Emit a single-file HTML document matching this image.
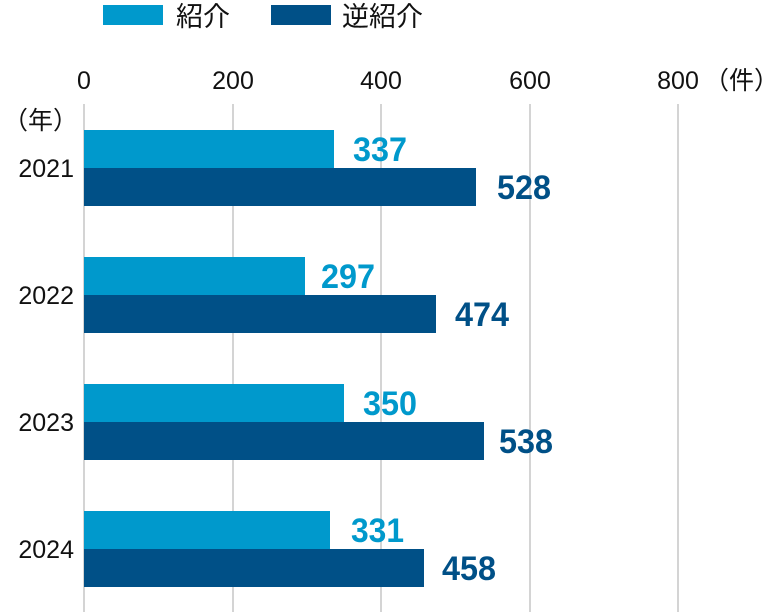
<!DOCTYPE html>
<html><head><meta charset="utf-8"><style>
body{margin:0;background:#fff;}
svg{display:block;}
.t{font-family:"Liberation Sans","Noto Sans CJK JP",sans-serif;fill:#111;}
.v{font-family:"Liberation Sans",sans-serif;font-weight:bold;font-size:34px;}
</style></head><body>
<svg width="780" height="616" viewBox="0 0 780 616">
<rect x="103" y="5" width="60" height="20" fill="#0099cc"/>
<text class="t" x="176" y="26" font-size="27">紹介</text>
<rect x="271" y="5" width="60" height="20" fill="#005087"/>
<text class="t" x="342" y="26" font-size="27">逆紹介</text>
<g class="t" font-size="25" text-anchor="middle">
<text x="84" y="89">0</text><text x="233" y="89">200</text><text x="381" y="89">400</text><text x="530" y="89">600</text><text x="678" y="89">800</text>
</g>
<text class="t" x="704" y="89" font-size="25">（件）</text>
<text class="t" x="3" y="129" font-size="25">（年）</text>
<g stroke="#d4d4d4" stroke-width="2">
<line x1="84" y1="104" x2="84" y2="612"/><line x1="233" y1="104" x2="233" y2="612"/><line x1="381" y1="104" x2="381" y2="612"/><line x1="530" y1="104" x2="530" y2="612"/><line x1="678" y1="104" x2="678" y2="612"/>
</g>
<g class="t" font-size="25" text-anchor="end">
<text x="74" y="177">2021</text><text x="74" y="304">2022</text><text x="74" y="431">2023</text><text x="74" y="558">2024</text>
</g>
<g fill="#0099cc">
<rect x="84" y="130" width="250" height="38"/><rect x="84" y="257" width="221" height="38"/><rect x="84" y="384" width="260" height="38"/><rect x="84" y="511" width="246" height="38"/>
</g>
<g fill="#005087">
<rect x="84" y="168" width="392" height="38"/><rect x="84" y="295" width="352" height="38"/><rect x="84" y="422" width="400" height="38"/><rect x="84" y="549" width="340" height="38"/>
</g>
<g class="v" fill="#0099cc">
<text x="353" y="161" textLength="54" lengthAdjust="spacingAndGlyphs">337</text><text x="321" y="288" textLength="54" lengthAdjust="spacingAndGlyphs">297</text><text x="363" y="415" textLength="54" lengthAdjust="spacingAndGlyphs">350</text><text x="351" y="542" textLength="53" lengthAdjust="spacingAndGlyphs">331</text>
</g>
<g class="v" fill="#005087">
<text x="497" y="199" textLength="54" lengthAdjust="spacingAndGlyphs">528</text><text x="455" y="326" textLength="54" lengthAdjust="spacingAndGlyphs">474</text><text x="499" y="453" textLength="54" lengthAdjust="spacingAndGlyphs">538</text><text x="442" y="580" textLength="54" lengthAdjust="spacingAndGlyphs">458</text>
</g>
</svg>
</body></html>
